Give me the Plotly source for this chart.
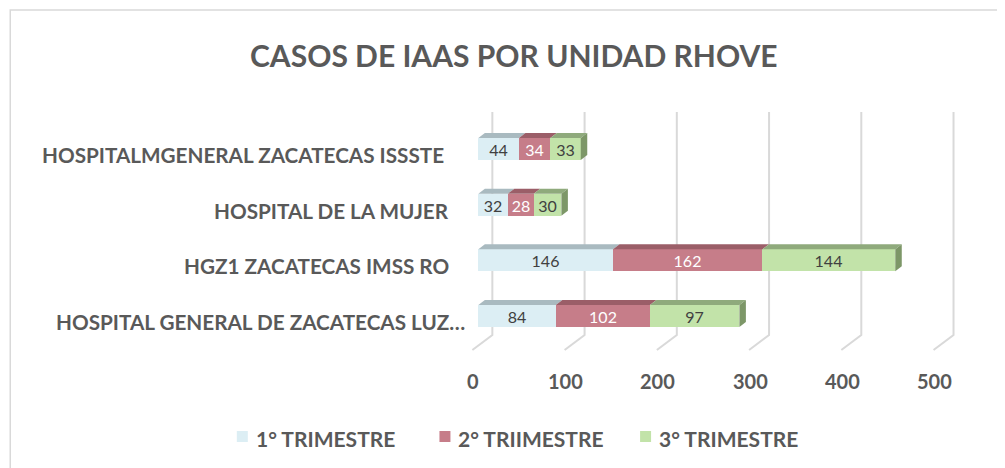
import plotly.graph_objects as go

# ---------------- data ----------------
categories = [
    "HOSPITAL GENERAL DE ZACATECAS LUZ…",
    "HGZ1 ZACATECAS IMSS RO",
    "HOSPITAL DE LA MUJER",
    "HOSPITALMGENERAL ZACATECAS ISSSTE",
]
series_names = ["1° TRIMESTRE", "2° TRIIMESTRE", "3° TRIMESTRE"]
trim1 = [84, 146, 32, 44]
trim2 = [102, 162, 28, 34]
trim3 = [97, 144, 30, 33]
x_ticks = [0, 100, 200, 300, 400, 500]
title_text = "CASOS DE IAAS POR UNIDAD RHOVE"

# ---------------- styling ----------------
W, H = 1005, 468
OFF = 8  # page body margin in the browser
L, R, T, B = 470.6 - OFF, 958.5 - OFF, 105.0 - OFF, 355.0 - OFF
XR = [-8, 520]
YR = [-0.70, 3.79]
kx = (R - L) / (XR[1] - XR[0])       # px per x unit
ky = (B - T) / (YR[1] - YR[0])       # px per y unit

front_cols = ["#DCEEF4", "#C67D89", "#C2E3A9"]
top_cols = ["#A9BAC0", "#9B5E68", "#8FAA7C"]
side_col = "#7D9768"
txt_cols = ["#404040", "#FFFFFF", "#404040"]
GRAY = "#595959"
GRID = "#D9D9D9"
FONT = "Lato, 'Open Sans', sans-serif"

def pxx(p):  # reference pixel x -> paper
    return (p - OFF - L) / (R - L)

def pxy(p):  # reference pixel y -> paper
    return (B - (p - OFF)) / (B - T)

ypos = list(range(len(categories)))
bar_w = 22 / ky
dx = 6.5 / kx
dy = 5 / ky

fig = go.Figure()
series = [trim1, trim2, trim3]
for i, (name, vals) in enumerate(zip(series_names, series)):
    fig.add_trace(go.Bar(
        y=ypos, x=vals, orientation="h", name=name, width=bar_w,
        marker=dict(color=front_cols[i], line=dict(width=0)),
        text=[str(v) for v in vals], textposition="inside",
        insidetextanchor="middle", textangle=0, constraintext="none",
        textfont=dict(family=FONT, size=16, color=txt_cols[i]),
        showlegend=False, hoverinfo="x+name",
    ))

shapes = []
# gridlines (back wall + slanted floor)
back_off = 14 / kx
front_off = -20 / kx
y_top = 3 + (149 - 112) / ky
y_back_bottom = (316 - 335) / ky
y_front = (316 - 350) / ky
for v in x_ticks:
    shapes.append(dict(
        type="path", layer="below", xref="x", yref="y",
        path=f"M {v+back_off},{y_top} L {v+back_off},{y_back_bottom} L {v+back_off+front_off},{y_front}",
        line=dict(color=GRID, width=2)))

# 3D faces of the bars
for j, yc in enumerate(ypos):
    base = 0
    yt = yc + bar_w / 2
    yb = yc - bar_w / 2
    for i, vals in enumerate(series):
        x0, x1 = base, base + vals[j]
        shapes.append(dict(
            type="path", layer="above", xref="x", yref="y",
            path=f"M {x0},{yt} L {x1},{yt} L {x1+dx},{yt+dy} L {x0+dx},{yt+dy} Z",
            fillcolor=top_cols[i], line=dict(width=0)))
        base = x1
    shapes.append(dict(
        type="path", layer="above", xref="x", yref="y",
        path=f"M {base},{yb} L {base},{yt} L {base+dx},{yt+dy} L {base+dx},{yb+dy} Z",
        fillcolor=side_col, line=dict(width=0)))

# chart border
shapes.append(dict(type="rect", xref="paper", yref="paper",
                   x0=pxx(9), x1=pxx(1030), y0=pxy(10), y1=pxy(490),
                   line=dict(color=GRID, width=1.5), layer="below"))

annotations = []
# title
annotations.append(dict(text=title_text, xref="paper", yref="paper",
                        x=pxx(514), y=pxy(55), xanchor="center", yanchor="middle",
                        showarrow=False,
                        font=dict(family=FONT, size=30, color=GRAY, weight="bold")))
# category labels
label_right = [467, 451, 451, 446]
for j, cat in enumerate(categories):
    annotations.append(dict(text=cat, xref="paper", yref="y",
                            x=pxx(label_right[j]), y=ypos[j] - 6 / ky,
                            xanchor="right", yanchor="middle", showarrow=False,
                            font=dict(family=FONT, size=20.7, color=GRAY, weight="bold")))
# x tick labels
for v in x_ticks:
    annotations.append(dict(text=str(v), xref="x", yref="paper",
                            x=v - 5 / kx, y=pxy(381), xanchor="center", yanchor="middle",
                            showarrow=False,
                            font=dict(family=FONT, size=20, color=GRAY, weight="bold")))
# legend (manual)
leg_sq = [236, 439, 640]
for i, name in enumerate(series_names):
    shapes.append(dict(type="rect", xref="paper", yref="paper",
                       x0=pxx(leg_sq[i]), x1=pxx(leg_sq[i] + 11),
                       y0=pxy(442), y1=pxy(431),
                       fillcolor=front_cols[i], line=dict(width=0)))
    annotations.append(dict(text=name, xref="paper", yref="paper",
                            x=pxx(leg_sq[i] + 17), y=pxy(438),
                            xanchor="left", yanchor="middle", showarrow=False,
                            font=dict(family=FONT, size=21, color=GRAY, weight="bold")))

fig.update_layout(
    width=W, height=H,
    margin=dict(l=L, r=W - R, t=T, b=H - B, pad=0),
    paper_bgcolor="white", plot_bgcolor="white",
    barmode="stack", bargap=0,
    xaxis=dict(range=XR, showgrid=False, zeroline=False, showticklabels=False,
               showline=False, fixedrange=True),
    yaxis=dict(range=YR, showgrid=False, zeroline=False, showticklabels=False,
               showline=False, fixedrange=True),
    shapes=shapes, annotations=annotations, showlegend=False,
    font=dict(family=FONT),
)

fig.write_html("out.html")
